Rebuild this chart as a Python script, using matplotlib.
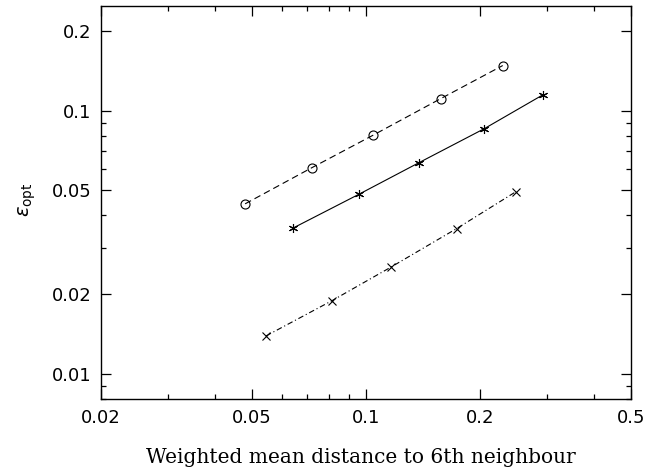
import numpy as np
import matplotlib.pyplot as plt
from matplotlib.ticker import FixedLocator, FixedFormatter, NullFormatter
plt.switch_backend("Agg")

#### data ######################################################################

distCirc = [0.0480, 0.0719, 0.1042, 0.1575, 0.2294]
epsCirc = [0.0442, 0.0606, 0.0805, 0.1111, 0.1484]
distStar = [0.0641, 0.0959, 0.1380, 0.2052, 0.2936]
epsStar = [0.0357, 0.0481, 0.0634, 0.0854, 0.1151]
distCross = [0.0545, 0.0812, 0.1164, 0.1735, 0.2488]
epsCross = [0.0139, 0.0189, 0.0254, 0.0356, 0.0492]

xMajor = [0.02, 0.05, 0.1, 0.2, 0.5]
xMinor = [0.03, 0.04, 0.06, 0.07, 0.08, 0.09, 0.3, 0.4]
yMajor = [0.01, 0.02, 0.05, 0.1, 0.2]
yMinor = [0.008, 0.009, 0.03, 0.04, 0.06, 0.07, 0.08, 0.09]

#### plot ######################################################################

fig = plt.figure(figsize=(6.6, 4.72), dpi=100)
ax = fig.add_axes([0.153, 0.1547, 0.8031, 0.8326])

lw = 0.8
ax.plot(distCirc, epsCirc, c='k', lw=lw, ls=(0, (6, 3.6)),
        marker='o', ms=6.5, mfc='none', mec='k', mew=0.8)
ax.plot(distStar, epsStar, c='k', lw=lw, ls='-',
        marker=(6, 2, 0), ms=6.5, mec='k', mew=0.8)
ax.plot(distCross, epsCross, c='k', lw=lw, ls=(0, (5, 2.5, 1, 2.5)),
        marker='x', ms=5.5, mec='k', mew=0.8)

ax.set_xscale('log')
ax.set_yscale('log')
ax.set_xlim(0.02, 0.5)
ax.set_ylim(0.008, 0.25)

ax.xaxis.set_major_locator(FixedLocator(xMajor))
ax.xaxis.set_major_formatter(FixedFormatter([str(v) for v in xMajor]))
ax.xaxis.set_minor_locator(FixedLocator(xMinor))
ax.xaxis.set_minor_formatter(NullFormatter())
ax.yaxis.set_major_locator(FixedLocator(yMajor))
ax.yaxis.set_major_formatter(FixedFormatter([str(v) for v in yMajor]))
ax.yaxis.set_minor_locator(FixedLocator(yMinor))
ax.yaxis.set_minor_formatter(NullFormatter())

ax.tick_params(which='both', direction='in', top=True, right=True, width=0.9)
ax.tick_params(which='major', length=7.2, labelsize=13, pad=7)
ax.tick_params(which='minor', length=3.6)
for s in ax.spines.values():
    s.set_linewidth(1.0)

ax.set_xlabel('Weighted mean distance to 6th neighbour',
              family='DejaVu Serif', fontsize=14.5, va='center')
ax.xaxis.set_label_coords(0.49, -0.15)
ax.set_ylabel(r'$\epsilon_{\rm opt}$', fontsize=14, rotation=90, va='center')
ax.yaxis.set_label_coords(-0.14, 0.506)

fig.savefig('out.png', dpi=100)
plt.close()
